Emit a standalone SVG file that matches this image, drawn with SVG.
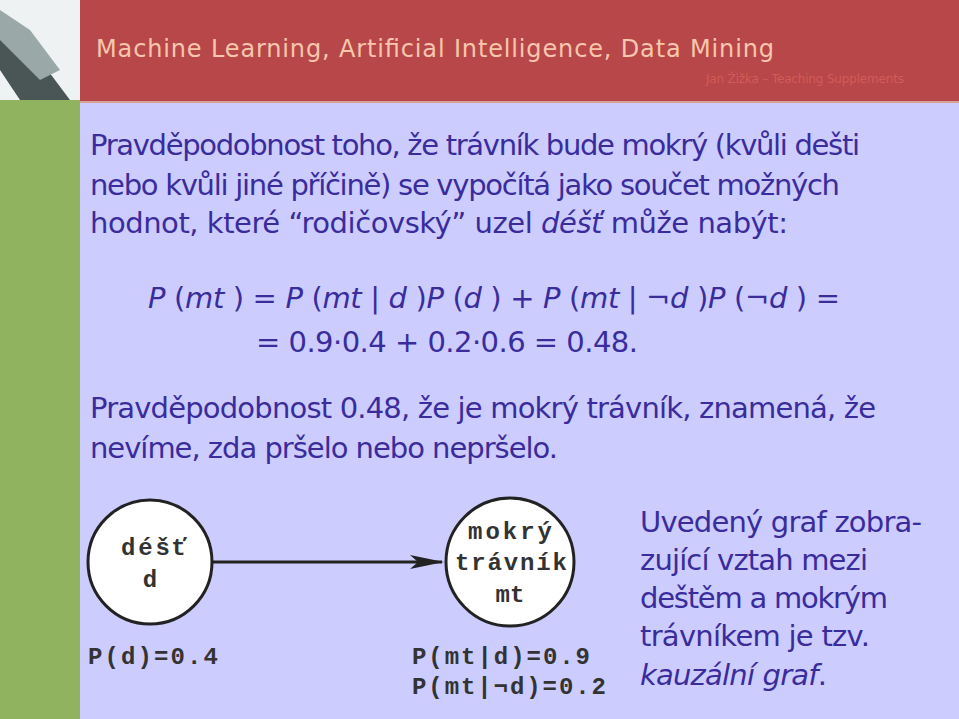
<svg xmlns="http://www.w3.org/2000/svg" width="959" height="719" viewBox="0 0 959 719">
<style>
.t{font-family:"DejaVu Sans","Liberation Sans",sans-serif;font-size:29px;fill:#3a2c9c}
.m{font-family:"Liberation Mono",monospace;font-weight:bold;font-size:24px;fill:#333}
.n{fill:#fff;stroke:#222;stroke-width:3}
</style>
<defs><marker id="ar" markerWidth="34" markerHeight="14" refX="32" refY="7" orient="auto" markerUnits="userSpaceOnUse"><path d="M0,0 L34,7 L0,14 L8,7 Z" fill="#222"/></marker></defs>
<rect width="959" height="719" fill="#ccccff"/>
<rect x="0" y="100" width="80" height="619" fill="#8fb35e"/>
<rect x="80" y="0" width="879" height="101" fill="#b8474a"/>
<rect x="80" y="101" width="879" height="2" fill="#d9a0a0"/>
<rect x="0" y="0" width="80" height="100" fill="#eef2f2"/>
<path d="M0,20 L40,60 L70,100 L20,100 L0,70 Z" fill="#4a5555"/>
<path d="M0,10 L30,30 L60,70 L40,80 L0,40 Z" fill="#9aa8a8"/>
<text x="96" y="57" font-family="DejaVu Sans,sans-serif" font-size="24" fill="#f6c6ad" textLength="678">Machine Learning, Artificial Intelligence, Data Mining</text>
<text x="706" y="83" font-family="DejaVu Sans,sans-serif" font-size="12" fill="#d25c58" textLength="198">Jan Žižka – Teaching Supplements</text>
<text class="t" x="90" y="155" textLength="770">Pravděpodobnost toho, že trávník bude mokrý (kvůli dešti</text>
<text class="t" x="90" y="195" textLength="750">nebo kvůli jiné příčině) se vypočítá jako součet možných</text>
<text class="t" x="90" y="233" textLength="698">hodnot, které “rodičovský” uzel <tspan font-style="italic">déšť</tspan> může nabýt:</text>
<text class="t" x="148" y="308" xml:space="preserve" textLength="692"><tspan font-style="italic">P</tspan> (<tspan font-style="italic">mt</tspan> ) = <tspan font-style="italic">P</tspan> (<tspan font-style="italic">mt</tspan> | <tspan font-style="italic">d</tspan> )<tspan font-style="italic">P</tspan> (<tspan font-style="italic">d</tspan> ) + <tspan font-style="italic">P</tspan> (<tspan font-style="italic">mt</tspan> | ¬<tspan font-style="italic">d</tspan> )<tspan font-style="italic">P</tspan> (¬<tspan font-style="italic">d</tspan> ) =</text>
<text class="t" x="256" y="352" textLength="382">= 0.9·0.4 + 0.2·0.6 = 0.48.</text>
<text class="t" x="90" y="418" textLength="786">Pravděpodobnost 0.48, že je mokrý trávník, znamená, že</text>
<text class="t" x="90" y="458" textLength="468">nevíme, zda pršelo nebo nepršelo.</text>
<g id="connectors"><line x1="213" y1="562" x2="442" y2="562" stroke="#222" stroke-width="3" marker-end="url(#ar)"/></g>
<g id="rain"><circle class="n" cx="150" cy="562" r="62"/><text class="m" x="121" y="555" textLength="66">déšť</text><text class="m" x="150" y="587" text-anchor="middle">d</text></g>
<g id="grass"><circle class="n" cx="510" cy="562" r="64"/><text class="m" x="468" y="539" textLength="84">mokrý</text><text class="m" x="455" y="570" textLength="112">trávník</text><text class="m" x="510" y="602" text-anchor="middle">mt</text></g>
<text class="m" x="88" y="664" textLength="130">P(d)=0.4</text>
<text class="m" x="412" y="664" textLength="178">P(mt|d)=0.9</text>
<text class="m" x="412" y="694" textLength="194">P(mt|¬d)=0.2</text>
<text class="t" x="640" y="532" textLength="282">Uvedený graf zobra-</text>
<text class="t" x="640" y="570" textLength="228">zující vztah mezi</text>
<text class="t" x="640" y="608" textLength="248">deštěm a mokrým</text>
<text class="t" x="640" y="646" textLength="230">trávníkem je tzv.</text>
<text class="t" x="640" y="685" font-style="italic" textLength="187">kauzální graf<tspan font-style="normal">.</tspan></text>
</svg>
